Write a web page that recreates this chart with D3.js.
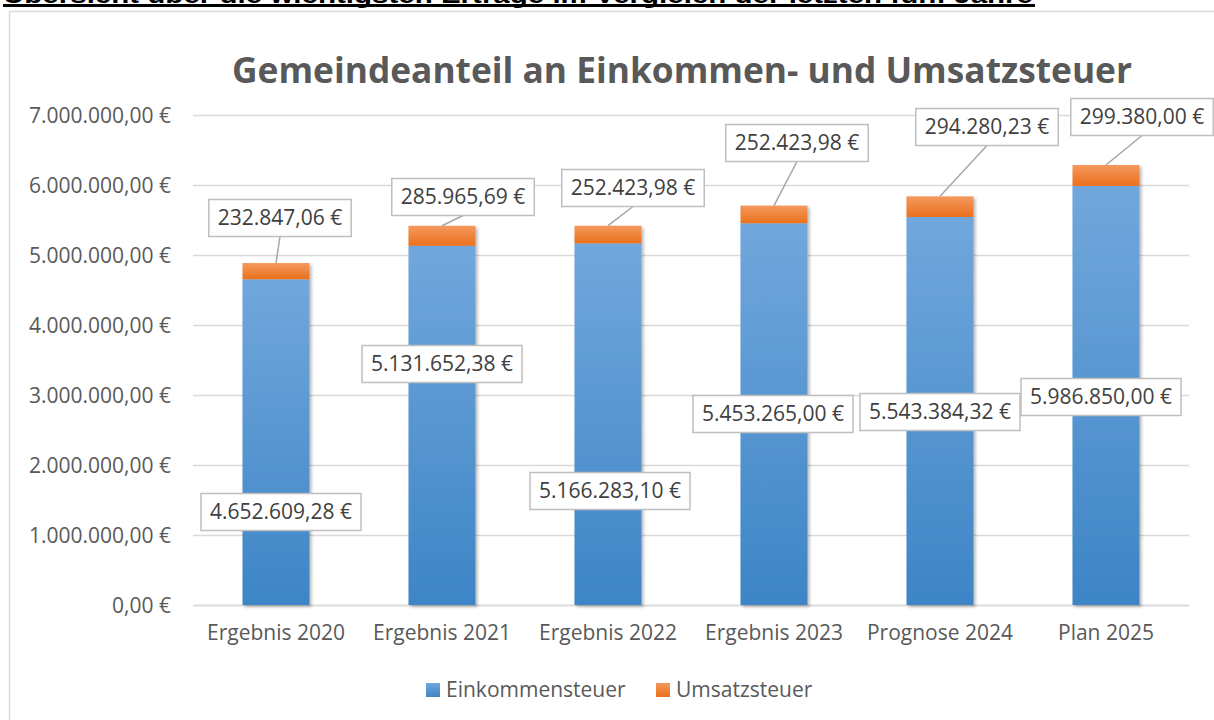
<!DOCTYPE html>
<html>
<head>
<meta charset="utf-8">
<script src="https://cdn.jsdelivr.net/npm/d3@7"></script>
<style>
  body { margin: 0; background: #fff; }
  svg { display: block; }
</style>
</head>
<body>
<div id="chart"></div>
<script>
const categories = ["Ergebnis 2020", "Ergebnis 2021", "Ergebnis 2022", "Ergebnis 2023", "Prognose 2024", "Plan 2025"];
const einkommensteuer = [4652609.28, 5131652.38, 5166283.10, 5453265.00, 5543384.32, 5986850.00];
const umsatzsteuer = [232847.06, 285965.69, 252423.98, 252423.98, 294280.23, 299380.00];
const seriesNames = ["Einkommensteuer", "Umsatzsteuer"];
const yTicks = [0, 1e6, 2e6, 3e6, 4e6, 5e6, 6e6, 7e6];

// label placement (px offsets from bar centre / absolute y), layout only
const eLabelPos = [[5, 512], [0, 364], [2, 491], [-1, 414], [0, 412], [-5, 397]];
const uLabelPos = [[4, 218], [21, 197], [25, 188], [23, 143], [47, 127], [36, 117]];

const W = 1214, H = 720;
const margin = { top: 115, right: 25, bottom: 115, left: 193 };

const de = d3.formatLocale({ decimal: ",", thousands: ".", grouping: [3], currency: ["", " €"] });
const fmt = de.format("$,.2f");

const svg = d3.select("#chart").append("svg").attr("width", W).attr("height", H);
const defs = svg.append("defs");

function grad(id, top, bottom) {
  const g = defs.append("linearGradient").attr("id", id).attr("x1", 0).attr("y1", 0).attr("x2", 0).attr("y2", 1);
  g.append("stop").attr("offset", "0%").attr("stop-color", top);
  g.append("stop").attr("offset", "100%").attr("stop-color", bottom);
}
grad("gBlue", "#71a7dc", "#3d85c6");
grad("gOrange", "#f4995e", "#ea701c");
defs.append("filter").attr("id", "shadow").attr("x", "-20%").attr("y", "-20%").attr("width", "150%").attr("height", "150%")
  .append("feDropShadow").attr("dx", 2).attr("dy", 2).attr("stdDeviation", 1.8)
  .attr("flood-color", "#000").attr("flood-opacity", 0.28);

// heading above chart, cut at the top of the page (as in the original)
svg.append("text")
  .attr("x", 3).attr("y", 3)
  .attr("font-family", "Liberation Sans, Arial, sans-serif")
  .attr("font-weight", "bold").attr("font-size", 24)
  .attr("textLength", 1030).attr("lengthAdjust", "spacingAndGlyphs")
  .attr("fill", "#000")
  .text("Übersicht über die wichtigsten Erträge im Vergleich der letzten fünf Jahre");
svg.append("rect").attr("x", 3).attr("y", 4).attr("width", 1032).attr("height", 3).attr("fill", "#000");

// chart frame
svg.append("rect").attr("x", 9.5).attr("y", 11.5).attr("width", 1240).attr("height", 740)
  .attr("fill", "none").attr("stroke", "#d9d9d9").attr("stroke-width", 1.5);

const font = "Open Sans, Lato, sans-serif";
const fs = 21;

const x = d3.scaleBand().domain(categories).range([margin.left, W - margin.right])
  .paddingInner(0.596).paddingOuter(0.298);
const y = d3.scaleLinear().domain([0, 7e6]).range([H - margin.bottom, margin.top]);

// title
svg.append("text")
  .attr("x", 682).attr("y", 83).attr("text-anchor", "middle")
  .attr("font-family", font).attr("font-weight", "bold").attr("font-size", 35.3)
  .attr("fill", "#595959")
  .text("Gemeindeanteil an Einkommen- und Umsatzsteuer");

// grid + y axis
const yAxis = svg.append("g")
  .attr("transform", `translate(${margin.left},0)`)
  .call(d3.axisLeft(y).tickValues(yTicks).tickFormat(fmt).tickSize(-(W - margin.left - margin.right)).tickPadding(22));
yAxis.select(".domain").remove();
yAxis.selectAll(".tick line").attr("stroke", "#d9d9d9").attr("stroke-width", 1.5);
yAxis.selectAll(".tick text").attr("font-family", font).attr("font-size", fs).attr("fill", "#595959").attr("dy", "0.35em");

// x axis
const xAxis = svg.append("g")
  .attr("transform", `translate(0,${y(0)})`)
  .call(d3.axisBottom(x).tickSize(0).tickPadding(20));
xAxis.select(".domain").attr("stroke", "#d9d9d9").attr("stroke-width", 1.5);
xAxis.selectAll(".tick text").attr("font-family", font).attr("font-size", fs).attr("fill", "#595959");

// stacked bars
const rows = categories.map((c, i) => ({ cat: c, e: einkommensteuer[i], u: umsatzsteuer[i] }));
const stack = d3.stack().keys(["e", "u"])(rows);
const fills = ["url(#gBlue)", "url(#gOrange)"];

const bars = svg.append("g").attr("filter", "url(#shadow)");
stack.forEach((layer, k) => {
  bars.selectAll(null).data(layer).join("rect")
    .attr("x", d => x(d.data.cat))
    .attr("width", x.bandwidth())
    .attr("y", d => y(d[1]))
    .attr("height", d => y(d[0]) - y(d[1]))
    .attr("fill", fills[k]);
});

// data labels
function label(cx, cy, value) {
  const g = svg.append("g");
  const t = g.append("text").attr("x", cx).attr("y", cy).attr("text-anchor", "middle").attr("dy", "0.35em")
    .attr("font-family", font).attr("font-size", fs).attr("fill", "#404040").text(fmt(value));
  const bb = t.node().getBBox();
  g.insert("rect", "text")
    .attr("x", cx - bb.width / 2 - 9).attr("y", cy - 18.5)
    .attr("width", bb.width + 18).attr("height", 37)
    .attr("fill", "#fff").attr("stroke", "#bfbfbf").attr("stroke-width", 1.5);
  return g;
}

const leaders = svg.append("g");
rows.forEach((d, i) => {
  const cx = x(d.cat) + x.bandwidth() / 2;
  label(cx + eLabelPos[i][0], eLabelPos[i][1], d.e);
  const lx = cx + uLabelPos[i][0], ly = uLabelPos[i][1];
  leaders.append("line")
    .attr("x1", lx).attr("y1", ly + 18.5)
    .attr("x2", cx).attr("y2", y(d.e + d.u))
    .attr("stroke", "#a6a6a6").attr("stroke-width", 1.5);
  label(lx, ly, d.u);
});

// legend
const legend = svg.append("g").attr("transform", "translate(426,683)");
const legX = [0, 230];
seriesNames.forEach((n, i) => {
  const item = legend.append("g").attr("transform", `translate(${legX[i]},0)`);
  item.append("rect").attr("width", 14).attr("height", 14).attr("fill", fills[i]);
  item.append("text").attr("x", 20).attr("y", 7).attr("dy", "0.35em")
    .attr("font-family", font).attr("font-size", fs).attr("fill", "#595959").text(n);
});
</script>
</body>
</html>
